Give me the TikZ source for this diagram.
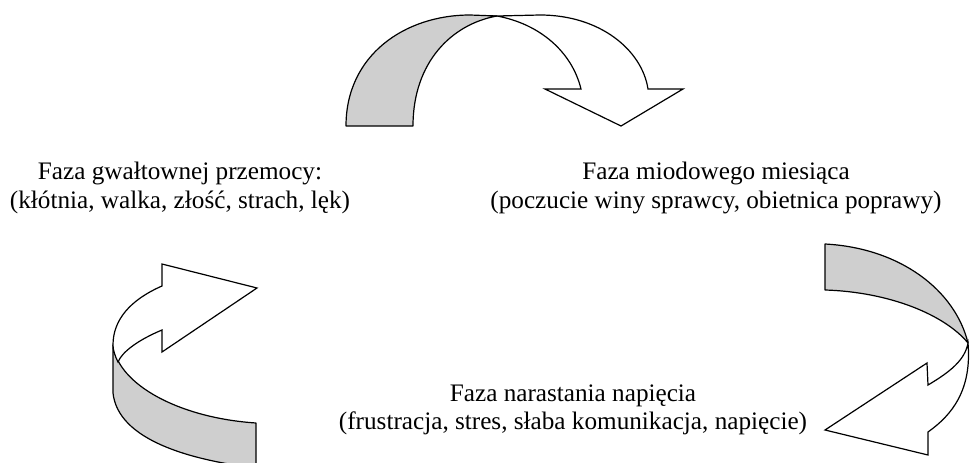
\documentclass[tikz,border=0pt]{standalone}
\usepackage{fontspec}
\setmainfont{Liberation Serif}
\begin{document}
\begin{tikzpicture}[x=1pt,y=-1pt,
  band/.style={draw=black, line width=1.2pt, fill=black!19, line join=round},
  face/.style={draw=black, line width=1.2pt, fill=white, line join=miter},
  lbl/.style={align=center, inner sep=0pt, font=\fontsize{25.2}{28.5}\selectfont}]
\useasboundingbox (0,0) rectangle (970,463);
\clip (0,0) rectangle (970,463);

% ---- top arrow ----
\draw[band] (346,126) .. controls (346,55) and (405,15) .. (470,15)
  -- (497,16) .. controls (452,24) and (413,62) .. (413,126) -- cycle;
\draw[face] (497,16) -- (540,15) .. controls (600,15) and (642,50) .. (648,89)
  -- (683,89) -- (621,126) -- (545,89) -- (581,89)
  .. controls (572,52) and (540,24) .. (497,16) -- cycle;

% ---- left arrow ----
\draw[band] (113,345) -- (113,393) .. controls (118,440) and (190,460) .. (256,468)
  -- (256,423) .. controls (180,418) and (118,385) .. (113,345) -- cycle;
\draw[face] (162,286) -- (162,264) -- (257,288) -- (162,352) -- (162,330)
  .. controls (138,340) and (122,352) .. (118,362)
  .. controls (115,356) and (113,350) .. (113,345)
  .. controls (113,320) and (130,300) .. (162,286) -- cycle;

% ---- right arrow ----
\draw[band] (825,244) .. controls (900,248) and (955,290) .. (968,343)
  .. controls (945,315) and (890,292) .. (825,290) -- cycle;
\draw[face] (968,343) .. controls (972,390) and (952,415) .. (928,432)
  -- (928,455) -- (825,430) -- (927,363) -- (928,385)
  .. controls (950,372) and (965,360) .. (968,343) -- cycle;

% ---- labels ----
\node[lbl] (violence) at (180,188) {Faza gwałtownej przemocy:\\(kłótnia, walka, złość, strach, lęk)};
\node[lbl] (honeymoon) at (716,188) {Faza miodowego miesiąca\\(poczucie winy sprawcy, obietnica poprawy)};
\node[lbl] (tension) at (573,410) {Faza narastania napięcia\\(frustracja, stres, słaba komunikacja, napięcie)};
\end{tikzpicture}
\end{document}
